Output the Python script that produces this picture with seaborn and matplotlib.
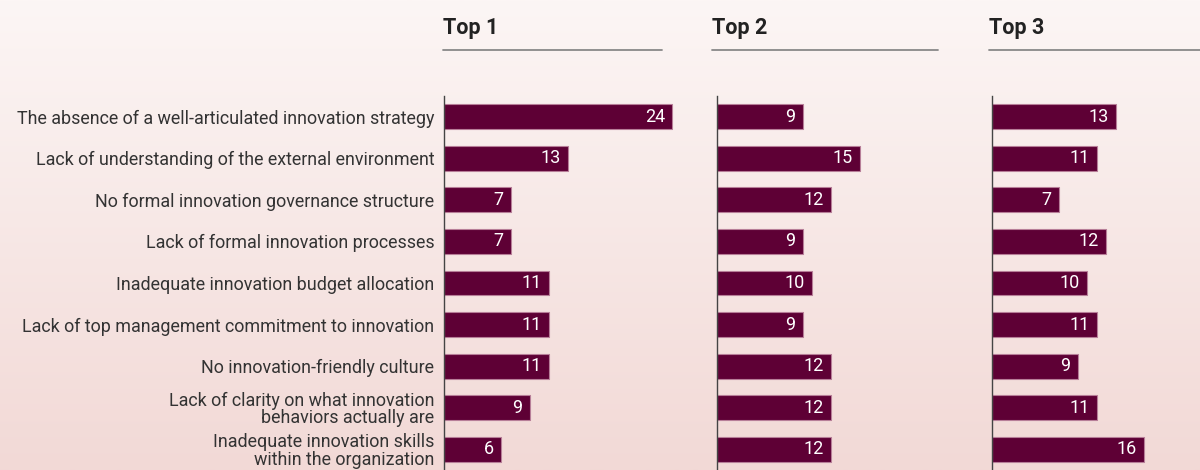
import numpy as np
import pandas as pd
import matplotlib
matplotlib.use("Agg")
import matplotlib.pyplot as plt
from matplotlib.lines import Line2D
from matplotlib.colors import LinearSegmentedColormap
import seaborn as sns

categories = [
    "The absence of a well-articulated innovation strategy",
    "Lack of understanding of the external environment",
    "No formal innovation governance structure",
    "Lack of formal innovation processes",
    "Inadequate innovation budget allocation",
    "Lack of top management commitment to innovation",
    "No innovation-friendly culture",
    "Lack of clarity on what innovation\nbehaviors actually are",
    "Inadequate innovation skills\nwithin the organization",
]
panel_titles = ["Top 1", "Top 2", "Top 3"]
top1 = [24, 13, 7, 7, 11, 11, 11, 9, 6]
top2 = [9, 15, 12, 9, 10, 9, 12, 12, 12]
top3 = [13, 11, 7, 12, 10, 11, 9, 11, 16]

df = pd.DataFrame({
    "category": categories * 3,
    "value": top1 + top2 + top3,
    "panel": sum([[t] * len(categories) for t in panel_titles], []),
})

sns.set_theme(style="white")
plt.rcParams["font.family"] = ["Roboto", "DejaVu Sans"]

BAR = "#5e0035"
EDGE = "#b77e98"
TEXT = "#333333"

W, H = 1200, 470
fig = plt.figure(figsize=(W / 100, H / 100), dpi=100)

# soft vertical gradient behind everything
bg = fig.add_axes([0, 0, 1, 1], zorder=-10)
cmap = LinearSegmentedColormap.from_list("bg", ["#fcf6f5", "#f2d9d6"])
bg.imshow(np.linspace(0, 1, 256).reshape(-1, 1), aspect="auto", cmap=cmap,
          extent=[0, 1, 0, 1])
bg.set_axis_off()

axis_left = [444, 717, 992]
title_x = [443, 712, 989]
rule_end = [662, 938, 1200]
ax_w = 230
ax_top = 96

n = len(categories)
for i, title in enumerate(panel_titles):
    ax = fig.add_axes([axis_left[i] / W, 0, ax_w / W, (H - ax_top) / H])
    ax.patch.set_alpha(0)
    sub = df[df["panel"] == title]
    sns.barplot(data=sub, y="category", x="value", orient="h", ax=ax,
                color=BAR, width=0.6, edgecolor=EDGE, linewidth=0.8,
                saturation=1, order=categories)
    ax.set_xlim(0, 24.2)
    ax.set_ylim(n - 1 + 0.5, -0.5)
    ax.set_xlabel("")
    ax.set_ylabel("")
    ax.set_xticks([])
    for s in ["top", "right", "bottom"]:
        ax.spines[s].set_visible(False)
    ax.spines["left"].set_color("#444444")
    ax.spines["left"].set_linewidth(1.0)
    ax.tick_params(axis="y", length=0, pad=7)
    if i == 0:
        ax.set_yticks(range(n))
        ax.set_yticklabels(categories, fontsize=12.9, color=TEXT,
                           linespacing=0.98)
    else:
        ax.set_yticks([])
    for c in ax.containers:
        texts = ax.bar_label(c, labels=[f"{v:g}" for v in c.datavalues],
                             padding=-5, color="white", fontsize=13,
                             label_type="edge")
        for t in texts:
            t.set_ha("right")

    fig.text(title_x[i] / W, 1 - 28 / H, title, fontsize=15.5,
             fontweight="bold", color="#222222", ha="left", va="center")
    fig.add_artist(Line2D([title_x[i] / W, rule_end[i] / W],
                          [1 - 50 / H, 1 - 50 / H],
                          color="#888888", linewidth=1.3))

fig.savefig("out.png", dpi=100)
